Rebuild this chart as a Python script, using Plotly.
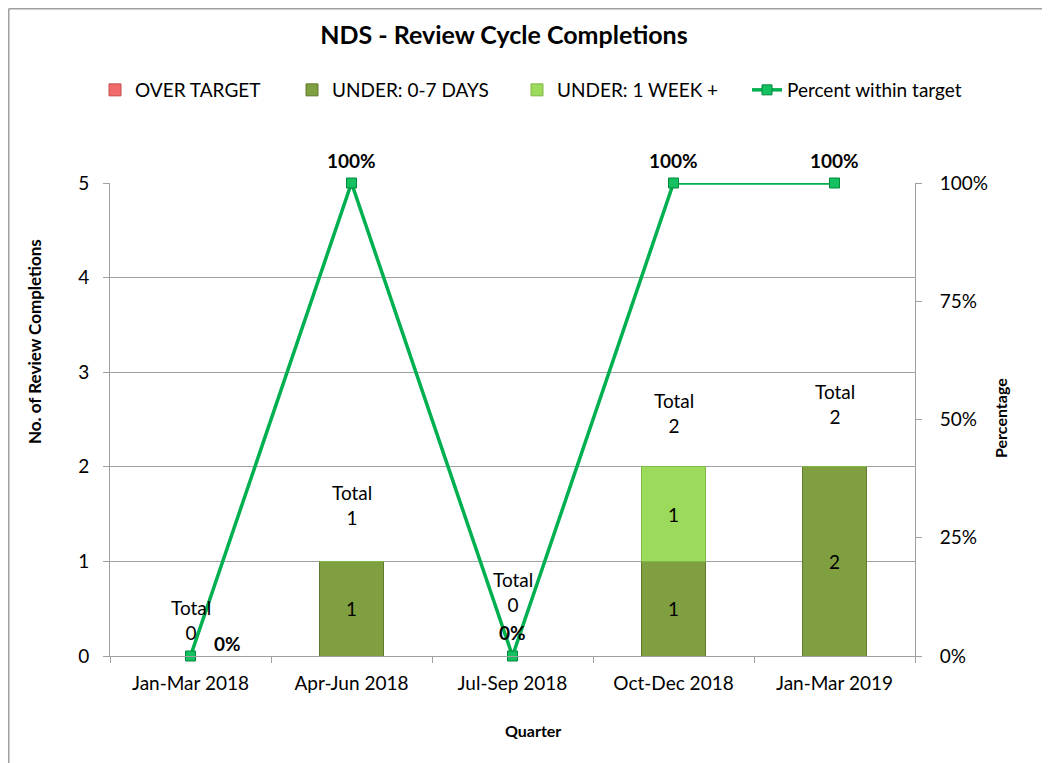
import plotly.graph_objects as go

categories = ["Jan-Mar 2018", "Apr-Jun 2018", "Jul-Sep 2018", "Oct-Dec 2018", "Jan-Mar 2019"]
over_target = [0, 0, 0, 0, 0]
under_0_7 = [0, 1, 0, 1, 2]
under_1wk = [0, 0, 0, 1, 0]
pct_within = [0, 100, 0, 100, 100]
totals = [o + a + b for o, a, b in zip(over_target, under_0_7, under_1wk)]

FONT = "Lato"
fs = 19

W, H = 1042, 755
L, R, T, B = 102, 135, 175, 107
PW, PH = W - L - R, H - T - B


def px(x):
    return (x - L) / PW


def py(y):
    return (H - B - y) / PH


def lab(vals):
    return [str(v) if v else "" for v in vals]


fig = go.Figure()
fig.add_trace(go.Bar(x=categories, y=over_target, name="OVER TARGET", legend="legend", showlegend=True,
                     marker=dict(color="#F26B6B", line=dict(color="#C0504D", width=1)),
                     text=lab(over_target), textposition="inside", insidetextanchor="middle",
                     textfont=dict(color="black", size=fs, family=FONT)))
fig.add_trace(go.Bar(x=categories, y=under_0_7, name="UNDER: 0-7 DAYS", legend="legend2",
                     marker=dict(color="#7F9F40", line=dict(color="#617A30", width=1)),
                     text=lab(under_0_7), textposition="inside", insidetextanchor="middle",
                     textfont=dict(color="black", size=fs, family=FONT)))
fig.add_trace(go.Bar(x=categories, y=under_1wk, name="UNDER: 1 WEEK +", legend="legend3",
                     marker=dict(color="#9BDA5A", line=dict(color="#80B848", width=1)),
                     text=lab(under_1wk), textposition="inside", insidetextanchor="middle",
                     textfont=dict(color="black", size=fs, family=FONT)))
fig.add_trace(go.Scatter(x=categories, y=pct_within, name="Percent within target", yaxis="y2",
                         legend="legend4", mode="lines+markers", cliponaxis=False,
                         line=dict(color="#00B050", width=3.5),
                         marker=dict(symbol="square", size=10, color="#14C060",
                                     line=dict(color="#00883C", width=1))))

# Total labels
total_shift = [36, 56, 64, 54, 63]
for c, t, s in zip(categories, totals, total_shift):
    fig.add_annotation(x=c, y=t, yref="y", text=f"Total<br>{t}", showarrow=False,
                       yshift=s, font=dict(family=FONT, size=fs, color="black"))

# Percent labels
pct_shift = [(37, 13), (0, 23), (0, 24), (0, 23), (0, 23)]
for c, p, (dx, dy) in zip(categories, pct_within, pct_shift):
    fig.add_annotation(x=c, y=p, yref="y2", text=f"<b>{p}%</b>", showarrow=False,
                       xshift=dx, yshift=dy, font=dict(family=FONT, size=fs, color="black"))

# axis titles
fig.add_annotation(xref="paper", yref="paper", x=px(26), y=py(334), xanchor="center", yanchor="middle",
                   text="<b>No. of Review Completions</b>",
                   textangle=-90, showarrow=False, font=dict(size=17, family=FONT))
fig.add_annotation(xref="paper", yref="paper", x=px(992), y=py(410), xanchor="center", yanchor="middle",
                   text="<b>Percentage</b>",
                   textangle=-90, showarrow=False, font=dict(size=16, family=FONT))
fig.add_annotation(xref="paper", yref="paper", x=px(525), y=py(722), xanchor="center", yanchor="middle",
                   text="<b>Quarter</b>",
                   showarrow=False, font=dict(size=16, family=FONT))

# outer frame
fig.add_shape(type="line", xref="paper", yref="paper", x0=px(0.75), x1=px(W + 10), y0=py(0.75), y1=py(0.75),
              line=dict(color="#A0A0A0", width=1.5))
fig.add_shape(type="line", xref="paper", yref="paper", x0=px(0.75), x1=px(0.75), y0=py(0.75), y1=py(H + 10),
              line=dict(color="#A0A0A0", width=1.5))

leg_common = dict(orientation="h", xref="container", yref="container", y=1 - 82 / H,
                  yanchor="middle", xanchor="left", visible=True,
                  font=dict(size=fs, family=FONT), bgcolor="rgba(0,0,0,0)", itemwidth=30)
leg_x = [87, 284, 509, 739]

fig.update_layout(
    width=W, height=H,
    margin=dict(l=L, r=R, t=T, b=B),
    paper_bgcolor="white", plot_bgcolor="white",
    showlegend=True,
    barmode="stack", bargap=0.6,
    font=dict(family=FONT, size=fs, color="black"),
    title=dict(text="<b>NDS - Review Cycle Completions</b>", x=496 / W, xanchor="center",
               y=1 - 27 / H, yanchor="middle", font=dict(size=25, family=FONT)),
    legend=dict(x=leg_x[0] / W, **leg_common),
    legend2=dict(x=leg_x[1] / W, **leg_common),
    legend3=dict(x=leg_x[2] / W, **leg_common),
    legend4=dict(x=leg_x[3] / W, **leg_common),
    xaxis=dict(type="category", tickson="boundaries", ticks="outside", ticklen=6,
               tickcolor="#A0A0A0", showline=True, linecolor="#A0A0A0", linewidth=1,
               ticklabelstandoff=10, showgrid=False),
    yaxis=dict(range=[0, 5], dtick=1, ticks="outside", ticklen=6, tickcolor="#A0A0A0",
               showline=True, linecolor="#A0A0A0", gridcolor="#A0A0A0", gridwidth=1,
               zeroline=False, ticklabelstandoff=10),
    yaxis2=dict(range=[0, 100], dtick=25, overlaying="y", side="right", ticksuffix="%",
                ticks="outside", ticklen=6, tickcolor="#A0A0A0", showline=True,
                linecolor="#A0A0A0", showgrid=False, zeroline=False, ticklabelstandoff=14),
)

fig.write_html("out.html")
